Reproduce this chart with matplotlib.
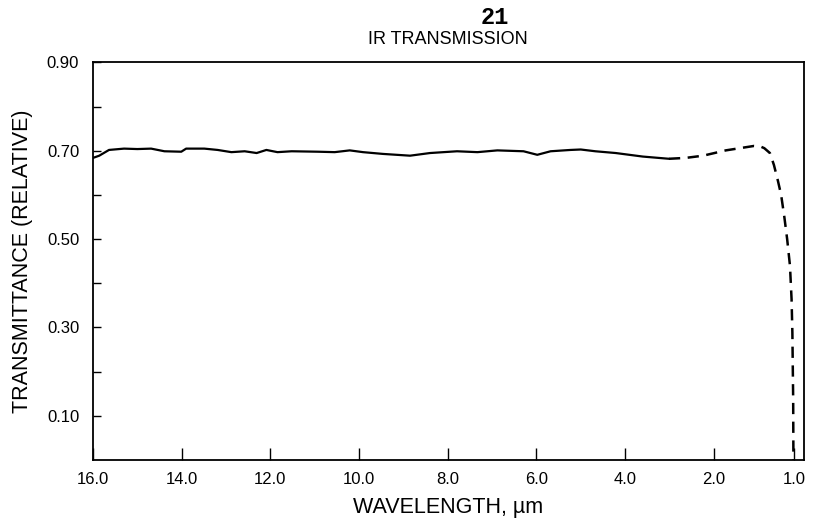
import matplotlib
matplotlib.use("Agg")
import matplotlib.pyplot as plt
import numpy as np

# measured curve (wavelength in um, relative transmittance)
solid_wl = [16.0, 15.86, 15.64, 15.30, 15.0, 14.69, 14.39, 14.01, 13.90, 13.49,
            13.19, 12.88, 12.58, 12.31, 12.09, 11.84, 11.52, 10.93, 10.55,
            10.21, 9.91, 9.46, 8.85, 8.40, 7.79, 7.33, 6.88, 6.29, 5.98, 5.68,
            5.23, 5.00, 4.67, 4.21, 3.60, 3.01]
solid_t = [0.684, 0.689, 0.702, 0.705, 0.704, 0.705, 0.699, 0.698, 0.705, 0.705,
           0.702, 0.697, 0.699, 0.695, 0.702, 0.697, 0.699, 0.698, 0.697,
           0.701, 0.697, 0.693, 0.689, 0.695, 0.699, 0.697, 0.701, 0.699, 0.691, 0.699,
           0.702, 0.703, 0.699, 0.695, 0.687, 0.682]

dash_wl = [3.01, 2.63, 2.24, 1.85, 1.64, 1.50, 1.42, 1.37, 1.30, 1.25, 1.20,
           1.16, 1.12, 1.085, 1.05, 1.03, 1.02, 1.015, 1.01, 1.007]
dash_t = [0.682, 0.684, 0.689, 0.701, 0.707, 0.711, 0.710, 0.706, 0.695, 0.668, 0.632,
          0.600, 0.550, 0.500, 0.440, 0.364, 0.289, 0.212, 0.136, 0.0]

xticks = [16.0, 14.0, 12.0, 10.0, 8.0, 6.0, 4.0, 2.0, 1.0]
xlabels = ["16.0", "14.0", "12.0", "10.0", "8.0", "6.0", "4.0", "2.0", "1.0"]
yticks = [0.1, 0.2, 0.3, 0.4, 0.5, 0.6, 0.7, 0.8, 0.9]
ylabels = ["0.10", "", "0.30", "", "0.50", "", "0.70", "", "0.90"]

STRETCH = 1.81  # the 2-1 um segment is drawn wider than the rest


def fwd(x):
    x = np.asarray(x, dtype=float)
    return np.where(x >= 2.0, x, 2.0 - (2.0 - x) * STRETCH)


def inv(p):
    p = np.asarray(p, dtype=float)
    return np.where(p >= 2.0, p, 2.0 - (2.0 - p) / STRETCH)


plt.rcParams['font.family'] = ['Liberation Sans', 'DejaVu Sans']

fig = plt.figure(figsize=(8.19, 5.23), dpi=100)
ax = fig.add_axes([0.1136, 0.1205, 0.868, 0.760])

ax.set_xscale('function', functions=(fwd, inv))
ax.plot(solid_wl, solid_t, color='black', linewidth=1.6, solid_capstyle='round')
ax.plot(dash_wl, dash_t, color='black', linewidth=1.8, dashes=(4.5, 3))

ax.set_xlim(16.0, 0.876)
ax.set_ylim(0.0, 0.9)

ax.set_xticks(xticks)
ax.set_xticklabels(xlabels)
ax.set_yticks(yticks)
ax.set_yticklabels(ylabels)
ax.xaxis.set_minor_locator(matplotlib.ticker.NullLocator())
ax.yaxis.set_minor_locator(matplotlib.ticker.NullLocator())
ax.tick_params(axis='x', direction='in', length=9, width=1.0, labelsize=12, pad=9)
ax.tick_params(axis='y', direction='in', length=6, width=1.0, labelsize=12, pad=10)

for s in ax.spines.values():
    s.set_linewidth(1.3)

ax.set_xlabel("WAVELENGTH, \u00b5m", fontsize=15.5, labelpad=7)
ax.set_ylabel("TRANSMITTANCE (RELATIVE)", fontsize=15.5, labelpad=10)

fig.text(0.604, 0.966, "21", ha='center', va='center', fontsize=17,
         fontweight='bold', family=['Liberation Mono', 'DejaVu Sans Mono'])
fig.text(0.547, 0.924, "IR TRANSMISSION", ha='center', va='center', fontsize=13)

fig.savefig("out.png", dpi=100)
